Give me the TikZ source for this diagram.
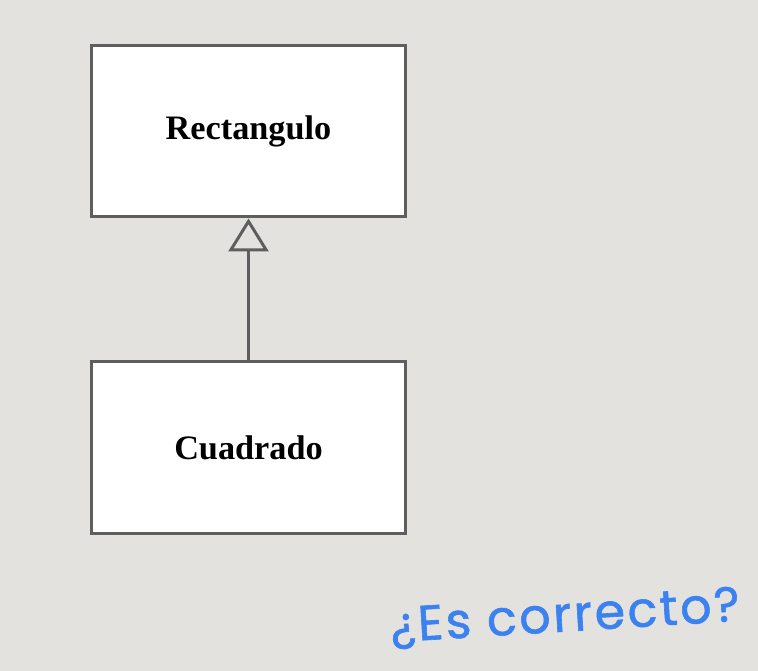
\documentclass[tikz,border=0pt]{standalone}
\usepackage{fontspec}
\setmainfont{Liberation Serif}
\newfontfamily\handfont[LetterSpace=5,FakeBold=1.2]{Poppins}
\usetikzlibrary{positioning,arrows.meta}
\definecolor{UmlBack}{HTML}{E3E2DF}
\definecolor{UmlLine}{HTML}{5E5E5E}
\definecolor{UmlNote}{HTML}{3B82F0}

\begin{document}
\begin{tikzpicture}[x=0.02cm, y=-0.02cm, font=\fontsize{19.5}{23}\selectfont]
  \fill[UmlBack] (0,0) rectangle (758,671);
  \useasboundingbox (0,0) rectangle (758,671);
  \node[draw=UmlLine, fill=white, line width=1.7pt, minimum width=6.3cm, minimum height=3.44cm] (rect) at (248.5,131)
    {\textbf{Rectangulo}};
  \node[draw=UmlLine, fill=white, line width=1.7pt, minimum width=6.3cm, minimum height=3.44cm, below=2.84cm of rect] (sq)
    {\textbf{Cuadrado}};
  \draw[-{Triangle[open, length=0.66cm, width=0.8cm]}, UmlLine, line width=1.7pt] (sq.north)--(rect.south);
  \node[text=UmlNote, rotate=3.5, font=\handfont\fontsize{28}{34}\selectfont] (note) at (565,618)
    {¿Es correcto?};
\end{tikzpicture}
\end{document}
